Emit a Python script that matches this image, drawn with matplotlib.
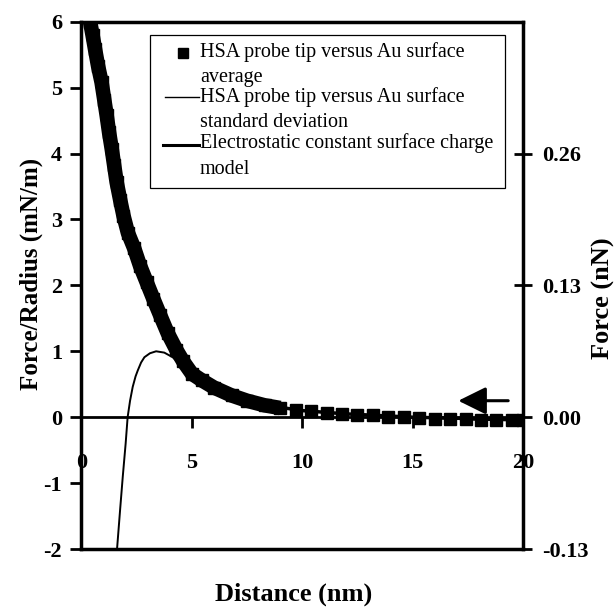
import matplotlib
matplotlib.use("Agg")
import matplotlib.pyplot as plt
from matplotlib.lines import Line2D
from matplotlib.patches import Rectangle

# average curve (distance nm, force/radius mN/m)
avg_x = [0.39, 0.5, 0.61, 0.75, 0.91, 1.03, 1.14, 1.25, 1.37, 1.48, 1.59, 1.75, 1.9, 2.1, 2.39,
         2.65, 2.95, 3.25, 3.56, 3.9, 4.3, 4.6, 5.0, 5.45, 6.0, 6.8, 7.5, 8.3,
         9.0, 9.7, 10.4, 11.1, 11.8, 12.5, 13.2, 13.9, 14.6, 15.3, 16.0, 16.7, 17.4, 18.1, 18.8, 19.5, 20.0]
avg_y = [6.0, 5.8, 5.59, 5.33, 5.08, 4.82, 4.58, 4.32, 4.07, 3.82, 3.57, 3.3, 3.06, 2.8, 2.56,
         2.3, 2.05, 1.8, 1.55, 1.28, 1.02, 0.85, 0.66, 0.56, 0.45, 0.33, 0.25, 0.18,
         0.14, 0.11, 0.09, 0.07, 0.05, 0.04, 0.03, 0.01, 0.0, -0.01, -0.02, -0.03, -0.03, -0.04, -0.05, -0.05, -0.05]
n_dense = 29  # points where the squares overlap into a solid band

# standard deviation curve (thin line)
std_x = [1.61, 1.75, 1.87, 2.0, 2.09, 2.2, 2.32, 2.45, 2.55, 2.7, 2.85, 3.1, 3.38, 3.75, 4.13,
         4.5, 5.0, 6.0, 7.0, 8.0, 10.0, 12.0, 15.0, 18.0, 20.0]
std_y = [-2.0, -1.4, -0.9, -0.4, 0.0, 0.25, 0.46, 0.62, 0.71, 0.83, 0.91, 0.97, 1.0, 0.98, 0.91,
         0.8, 0.62, 0.42, 0.3, 0.2, 0.1, 0.05, 0.0, -0.04, -0.05]

# electrostatic constant surface charge model
model_x = [2.5, 3.0, 3.5, 4.0, 4.5, 5.0, 6.0, 7.0, 8.0, 10.0, 12.0, 15.0, 20.0]
model_y = [2.45, 1.95, 1.6, 1.2, 0.9, 0.68, 0.45, 0.3, 0.2, 0.1, 0.05, 0.0, -0.04]

x_ticks = [0, 5, 10, 15, 20]
y_ticks = [-2, -1, 0, 1, 2, 3, 4, 5, 6]
right_ticks = [-0.13, 0.0, 0.13, 0.26]
right_labels = ["-0.13", "0.00", "0.13", "0.26"]

legend_labels = ["HSA probe tip versus Au surface\naverage",
                 "HSA probe tip versus Au surface\nstandard deviation",
                 "Electrostatic constant surface charge\nmodel"]

arrow_tip = (17.07, 0.25)
arrow_tail = (19.33, 0.25)

plt.rcParams['font.family'] = ['Liberation Serif', 'DejaVu Serif']
plt.rcParams['font.weight'] = 'bold'
plt.rcParams['axes.labelweight'] = 'bold'
plt.rcParams['axes.unicode_minus'] = False

fig = plt.figure(figsize=(6.16, 6.12), dpi=100)
ax = fig.add_axes([0.1323, 0.1029, 0.7167, 0.8616])

# data
ax.plot(model_x, model_y, color='black', lw=2.5, zorder=2)
ax.plot(std_x, std_y, color='black', lw=1.4, zorder=3)
ax.plot(avg_x[:n_dense], avg_y[:n_dense], color='black', lw=10.5, solid_capstyle='butt', zorder=4)
ax.plot(avg_x, avg_y, 's', color='black', ms=9, zorder=4)

ax.set_xlim(0, 20)
ax.set_ylim(-2, 6)
ax.set_xticks(x_ticks)
ax.set_yticks(y_ticks)

ax.spines['bottom'].set_position(('data', 0))
ax.spines['bottom'].set_linewidth(2)
ax.spines['left'].set_linewidth(2.5)
ax.spines['top'].set_linewidth(2.5)
ax.spines['right'].set_visible(False)
ax.tick_params(axis='y', direction='out', length=8, width=2, pad=6, labelsize=16)
ax.tick_params(axis='x', direction='out', length=8, width=2, pad=18, labelsize=16)

ax2 = ax.twinx()
ax2.set_ylim(-2 * 0.065, 6 * 0.065)
ax2.set_yticks(right_ticks)
ax2.set_yticklabels(right_labels)
ax2.tick_params(axis='y', direction='inout', length=13, width=2, pad=7, labelsize=16)
for s in ['top', 'left']:
    ax2.spines[s].set_visible(False)
ax2.spines['right'].set_linewidth(2.5)
ax2.spines['bottom'].set_linewidth(2.5)

ax.set_ylabel('Force/Radius (mN/m)', fontsize=18, fontweight='bold')
ax.yaxis.set_label_coords(-0.087, 0.5215)
ax.set_xlabel('Distance (nm)', fontsize=19, fontweight='bold')
ax.xaxis.set_label_coords(0.48, -0.0645)
ax2.set_ylabel('Force (nN)', fontsize=19, fontweight='bold')
ax2.yaxis.set_label_coords(1.156, 0.476)

# hand-drawn legend
ax.add_patch(Rectangle((0.155, 0.685), 0.804, 0.29, transform=ax.transAxes,
                       facecolor='white', edgecolor='black', lw=0.9, zorder=5))
ax.add_line(Line2D([0.230], [0.941], marker='s', ms=7, color='black',
                   transform=ax.transAxes, zorder=6))
ax.add_line(Line2D([0.189, 0.266], [0.857, 0.857], lw=1, color='black',
                   transform=ax.transAxes, zorder=6))
ax.add_line(Line2D([0.185, 0.266], [0.766, 0.766], lw=2.2, color='black',
                   transform=ax.transAxes, zorder=6))
for label, ytop in zip(legend_labels, [0.961, 0.876, 0.788]):
    ax.text(0.268, ytop, label, transform=ax.transAxes, fontsize=14.5, fontweight='normal',
            va='top', ha='left', linespacing=1.45, zorder=6)

ax.annotate('', xy=arrow_tip, xytext=arrow_tail,
            arrowprops=dict(arrowstyle='-|>,head_length=0.85,head_width=0.42',
                            mutation_scale=20, lw=2.2, color='black',
                            shrinkA=0, shrinkB=0))

fig.savefig('out.png', dpi=100)
